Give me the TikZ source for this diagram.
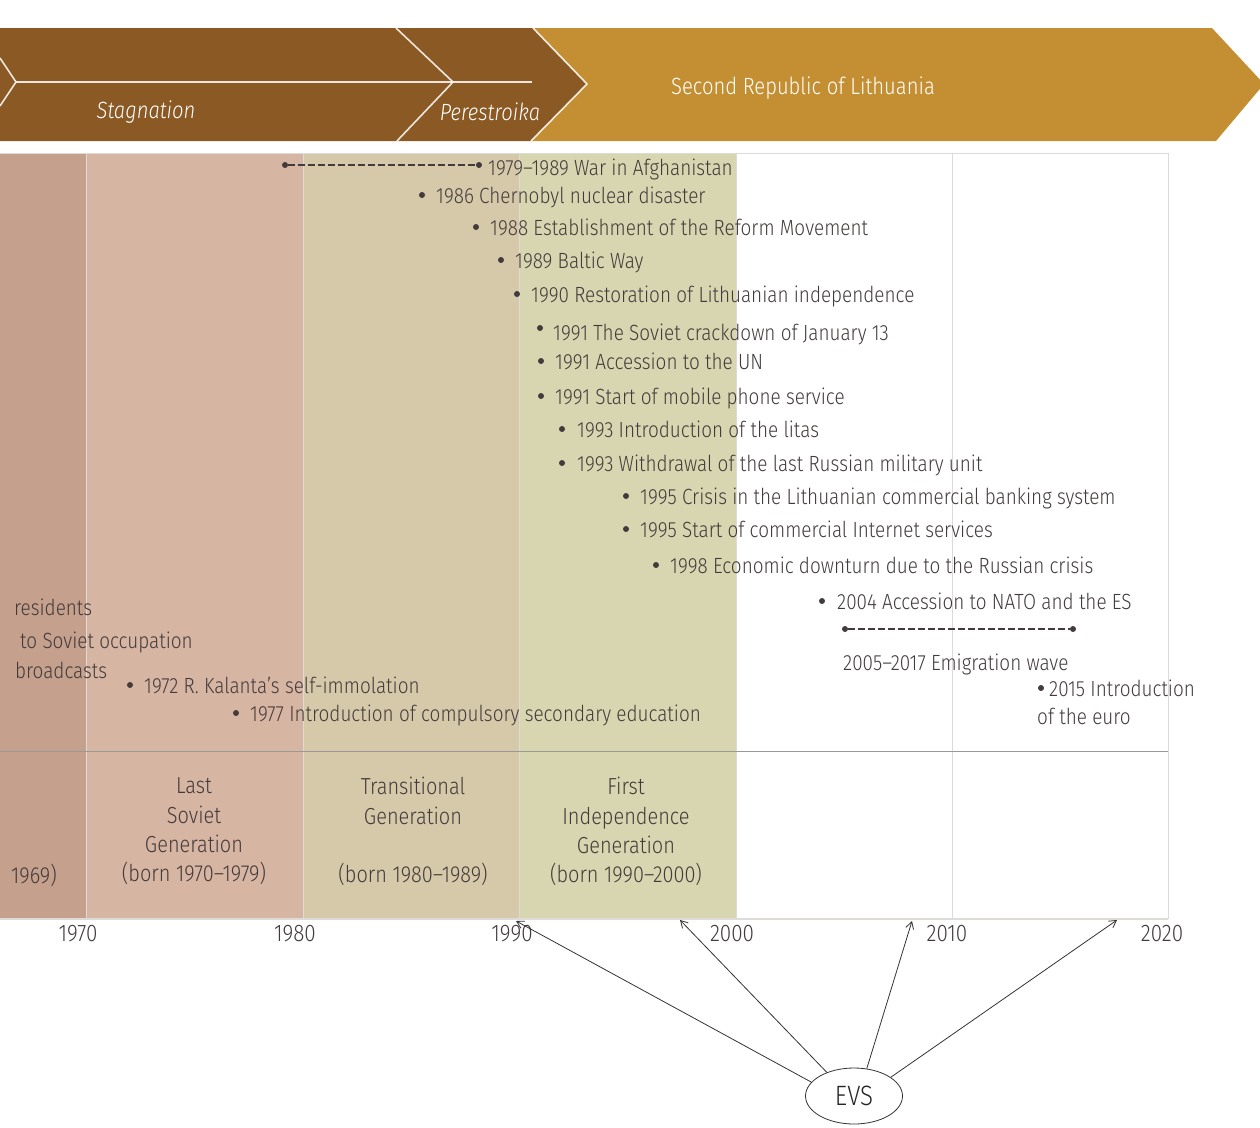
\documentclass[tikz,border=0pt]{standalone}
\usepackage{fontspec}
\setmainfont{Fira Sans}[UprightFont=* Light, ItalicFont=* Light Italic, FakeStretch=0.86]
\usetikzlibrary{arrows.meta,shapes.geometric}
\definecolor{brown}{HTML}{8B5A24}
\definecolor{gold}{HTML}{C48F33}
\definecolor{colA}{HTML}{C4A08D}
\definecolor{colB}{HTML}{D7B5A3}
\definecolor{colC}{HTML}{D6C9AA}
\definecolor{colD}{HTML}{D7D6B1}
\definecolor{txt}{HTML}{433B3B}
\definecolor{gridc}{HTML}{DEDAD8}
\tikzset{
  ev/.style={anchor=base west, inner sep=0pt, text=txt},
  bul/.style={circle, fill=txt, inner sep=0pt, minimum size=6pt},
  dashline/.style={draw=txt, line width=2.4pt, dash pattern=on 7pt off 3pt},
  gen/.style={align=center, text=txt, inner sep=0pt, font=\fontsize{23.2}{29.3}\selectfont},
  yr/.style={text=txt, inner sep=0pt, font=\fontsize{24}{28}\selectfont},
  banner/.style={text=white, inner sep=0pt, font=\fontsize{23.5}{27}\selectfont},
  chev/.style={draw=white, line width=1.6pt, opacity=0.85},
  arr/.style={draw=black!80, line width=0.8pt, -{Straight Barb[length=7pt,width=8pt]}},
}
\begin{document}
\begin{tikzpicture}[x=1pt,y=-1pt,font=\fontsize{22}{26}\selectfont]
\useasboundingbox (0,0) rectangle (1260,1127);
% banner
\fill[brown] (0,28) -- (533,28) -- (587,84) -- (531,141) -- (0,141) -- cycle;
\fill[gold] (533,28) -- (1212,28) -- (1264,84) -- (1216,141) -- (531,141) -- (587,84) -- cycle;
\draw[chev] (0,58) -- (16,82) -- (0,106);
\draw[chev] (396,28) -- (453,82) -- (397,141);
\draw[chev] (533,28) -- (587,84) -- (531,141);
\draw[chev, line width=1.2pt] (16,82) -- (532,82);
\node[banner] (stag) at (146,112) {\itshape Stagnation};
\node[banner] (pere) at (490,112) {\itshape Perestroika};
\node[banner] (rep) at (803,88) {Second Republic of Lithuania};
% columns
\fill[colA] (0,153) rectangle (86,918);
\fill[colB] (86,153) rectangle (303,918);
\fill[colC] (303,153) rectangle (519,918);
\fill[colD] (519,153) rectangle (736,918);
\draw[gridc, line width=0.8pt] (0,153) -- (1168,153);
\draw[gridc, line width=2pt] (0,919) -- (1168,919);
\foreach \x in {86,303,519,736,952,1168} \draw[gridc, line width=0.8pt] (\x,153) -- (\x,919);
\draw[black!40, line width=0.8pt] (0,751) -- (1168,751);
% years
\node[yr] (y1970) at (78,934) {1970};
\node[yr] (y1980) at (295,934) {1980};
\node[yr] (y1990) at (512,934) {1990};
\node[yr] (y2000) at (732,934) {2000};
\node[yr] (y2010) at (947,934) {2010};
\node[yr] (y2020) at (1162,934) {2020};
% generations
\node[gen, anchor=base] (g0) at (34,883) {1969)};
\node[gen] (g1) at (194,831.5) {Last\\Soviet\\Generation\\(born 1970–1979)};
\node[gen] (g2) at (413,831.5) {Transitional\\Generation\\\mbox{}\\(born 1980–1989)};
\node[gen] (g3) at (626,831.5) {First\\Independence\\Generation\\(born 1990–2000)};
% events
\node[bul] (da1) at (285,165) {};
\node[bul] (da2) at (479,165) {};
\draw[dashline] (da1) -- (da2);
\node[ev] (e1) at (488,175) {1979–1989 War in Afghanistan};
\node[bul] (b2) at (422,195) {};
\node[ev] (e2) at (436,203) {1986 Chernobyl nuclear disaster};
\node[bul] (b3) at (476,227) {};
\node[ev] (e3) at (490,235) {1988 Establishment of the Reform Movement};
\node[bul] (b4) at (501,260) {};
\node[ev] (e4) at (515,268) {1989 Baltic Way};
\node[bul] (b5) at (517,294) {};
\node[ev] (e5) at (531,302) {1990 Restoration of Lithuanian independence};
\node[bul] (b6) at (540,328) {};
\node[ev] (e6) at (553,340) {1991 The Soviet crackdown of January 13};
\node[bul] (b7) at (541,361) {};
\node[ev] (e7) at (555,369) {1991 Accession to the UN};
\node[bul] (b8) at (541,396) {};
\node[ev] (e8) at (555,404) {1991 Start of mobile phone service};
\node[bul] (b9) at (562,429) {};
\node[ev] (e9) at (577,437) {1993 Introduction of the litas};
\node[bul] (b10) at (562,463) {};
\node[ev] (e10) at (577,471) {1993 Withdrawal of the last Russian military unit};
\node[bul] (b11) at (626,496) {};
\node[ev] (e11) at (640,504) {1995 Crisis in the Lithuanian commercial banking system};
\node[bul] (b12) at (626,529) {};
\node[ev] (e12) at (640,537) {1995 Start of commercial Internet services};
\node[bul] (b13) at (656,565) {};
\node[ev] (e13) at (670,573) {1998 Economic downturn due to the Russian crisis};
\node[bul] (b14) at (822,601) {};
\node[ev] (e14) at (837,609) {2004 Accession to NATO and the ES};
\node[bul] (db1) at (845,629) {};
\node[bul] (db2) at (1073,629) {};
\draw[dashline] (db1) -- (db2);
\node[ev] (e15) at (843,670) {2005–2017 Emigration wave};
\node[bul] (b16) at (1041,688) {};
\node[ev] (e16) at (1049,696) {2015 Introduction};
\node[ev] (e16b) at (1037,724) {of the euro};
\node[ev] (e17) at (14,615) {residents};
\node[ev] (e18) at (20,648) {to Soviet occupation};
\node[ev] (e19) at (15,678) {broadcasts};
\node[bul] (b20) at (130,685) {};
\node[ev] (e20) at (144,693) {1972 R. Kalanta's self-immolation};
\node[bul] (b21) at (236,713) {};
\node[ev] (e21) at (250,721) {1977 Introduction of compulsory secondary education};
% EVS
\node[draw=black!80, line width=0.8pt, ellipse, minimum width=97pt, minimum height=56pt, inner sep=0pt, text=black!85, font=\fontsize{28}{32}\selectfont] (evs) at (854,1096) {EVS};
\coordinate (t1) at (516,921);
\coordinate (t2) at (680,920);
\coordinate (t3) at (912,921);
\coordinate (t4) at (1117,920);
\draw[arr] (evs.162) -- (t1);
\draw[arr] (evs.139) -- (t2);
\draw[arr] (evs.65) -- (t3);
\draw[arr] (evs.27) -- (t4);
\end{tikzpicture}
\end{document}
